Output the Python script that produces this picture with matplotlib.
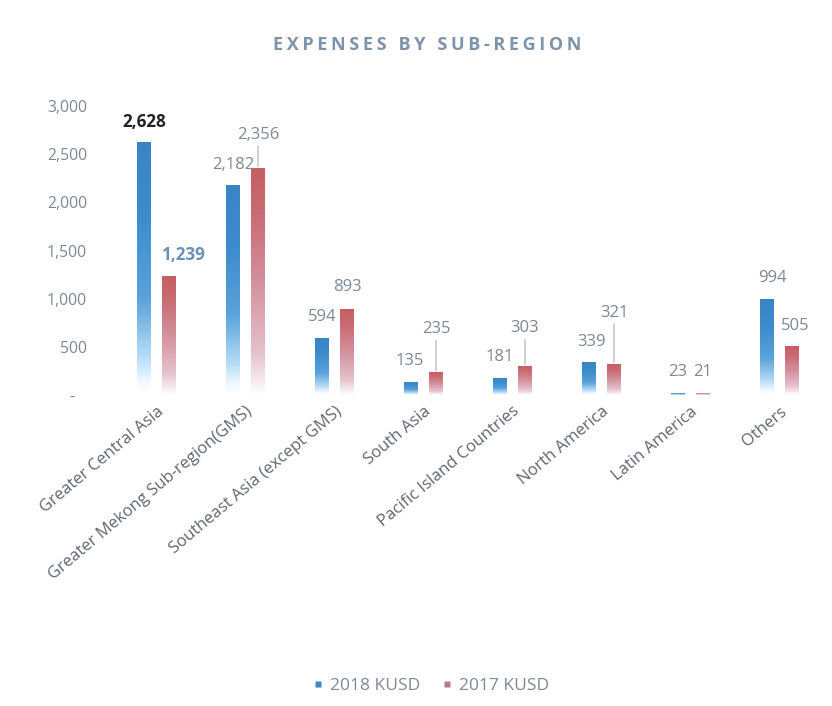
import numpy as np
import matplotlib
matplotlib.use("Agg")
import matplotlib.pyplot as plt
from matplotlib.colors import to_rgb
from matplotlib.lines import Line2D

plt.rcParams['font.family'] = ['Open Sans', 'DejaVu Sans']

categories = ["Greater Central Asia", "Greater Mekong Sub-region(GMS)",
              "Southeast Asia (except GMS)", "South Asia", "Pacific Island Countries",
              "North America", "Latin America", "Others"]
values_2018 = [2628, 2182, 594, 135, 181, 339, 23, 994]
values_2017 = [1239, 2356, 893, 235, 303, 321, 21, 505]
series_names = ["2018 KUSD", "2017 KUSD"]
yticks = [0, 500, 1000, 1500, 2000, 2500, 3000]
ytick_labels = ["-   ", "500", "1,000", "1,500", "2,000", "2,500", "3,000"]
title = "EXPENSES BY SUB-REGION"

# label offsets (points above bar top) -- styling, not data
off_2018 = [(0, 14), (0, 14), (0, 15), (-1, 15), (0, 15), (2, 15), (0, 15), (4, 15)]
off_2017 = [(10, 15), (0, 24), (0, 16), (0, 31), (0, 27), (0, 37), (0, 15), (2, 15)]
lead_2017 = [False, True, False, True, True, True, False, False]

# gradient stops: (fraction from bottom, colour)
blue_stops = [(0.0, "#ffffff"), (0.05, "#f2f9fe"), (0.15, "#b6dcf7"),
              (0.38, "#5aa3db"), (0.7, "#3d8ccd"), (1.0, "#3a84c4")]
red_stops = [(0.0, "#ffffff"), (0.05, "#f8eef2"), (0.18, "#e6c2cc"),
             (0.5, "#d3909d"), (0.8, "#c96b72"), (1.0, "#c55e63")]
blue = "#3a87c9"
red_legend = "#b57b86"
gray_txt = "#7d8894"

W, H = 832, 706
fig = plt.figure(figsize=(W / 100, H / 100), dpi=100)
ax = fig.add_axes([112 / W, 1 - 395 / H, 712 / W, 289 / H])

x = np.arange(len(categories))
bw = 14 / 89
off = 12.5 / 89


def grad_img(stops):
    t = np.linspace(0, 1, 256)
    pos = [s[0] for s in stops]
    cols = np.array([to_rgb(s[1]) for s in stops])
    img = np.stack([np.interp(t, pos, cols[:, k]) for k in range(3)], axis=-1)
    return img[:, None, :]  # row 0 = bottom


def gradient_bars(xs, vals, stops):
    bars = ax.bar(xs, vals, width=bw, color='none', edgecolor='none', zorder=2)
    img = grad_img(stops)
    for b in bars:
        x0, y0 = b.get_x(), b.get_y()
        w, h = b.get_width(), b.get_height()
        im = ax.imshow(img, extent=[x0, x0 + w, y0, y0 + h], origin='lower',
                       aspect='auto', zorder=2, interpolation='bilinear')
        im.set_clip_path(b)
    return bars


gradient_bars(x - off, values_2018, blue_stops)
gradient_bars(x + off, values_2017, red_stops)

ax.set_xlim(-0.5, len(categories) - 0.5)
ax.set_ylim(0, 3000)

# value labels
for i, v in enumerate(values_2018):
    if i == 0:
        kw = dict(color="#222222", fontweight='bold', fontsize=12.3)
    else:
        kw = dict(color=gray_txt, fontsize=12)
    ax.annotate(f"{v:,}", (x[i] - off, v), xytext=off_2018[i], textcoords='offset points',
                ha='center', va='center', **kw)
for i, v in enumerate(values_2017):
    if i == 0:
        kw = dict(color="#6d90b6", fontweight='bold', fontsize=12.3)
    else:
        kw = dict(color=gray_txt, fontsize=12)
    ax.annotate(f"{v:,}", (x[i] + off, v), xytext=off_2017[i],
                textcoords='offset points', ha='center', va='center', **kw)
    if lead_2017[i]:
        ax.annotate("", (x[i] + off, v), xytext=(off_2017[i][0], off_2017[i][1] - 8),
                    textcoords='offset points',
                    arrowprops=dict(arrowstyle='-', color='#b0b0b0', lw=0.8,
                                    shrinkA=0, shrinkB=1))

ax.set_yticks(yticks)
ax.set_yticklabels(ytick_labels)
ax.set_xticks(x)
ax.set_xticklabels(categories, rotation=40, ha='right', rotation_mode='anchor')
ax.tick_params(axis='y', length=0, pad=18, labelsize=11.3, labelcolor=gray_txt)
ax.tick_params(axis='x', length=0, pad=6, labelsize=12, labelcolor="#5f6770")
for s in ax.spines.values():
    s.set_visible(False)

fig.text(427 / W, 1 - 45 / H, "\u2009".join(title), ha='center', va='center',
         fontsize=13, fontweight='bold', color="#7d93ab")

handles = [Line2D([], [], marker='s', linestyle='none', markersize=5,
                  markerfacecolor=blue, markeredgecolor='none'),
           Line2D([], [], marker='s', linestyle='none', markersize=5,
                  markerfacecolor=red_legend, markeredgecolor='none')]
fig.legend(handles, series_names, loc='center', bbox_to_anchor=(430 / W, 1 - 686 / H),
           ncol=2, frameon=False, fontsize=12.5, labelcolor=gray_txt,
           handletextpad=0.3, columnspacing=1.1, handlelength=0.8)

fig.savefig("out.png", dpi=100)
